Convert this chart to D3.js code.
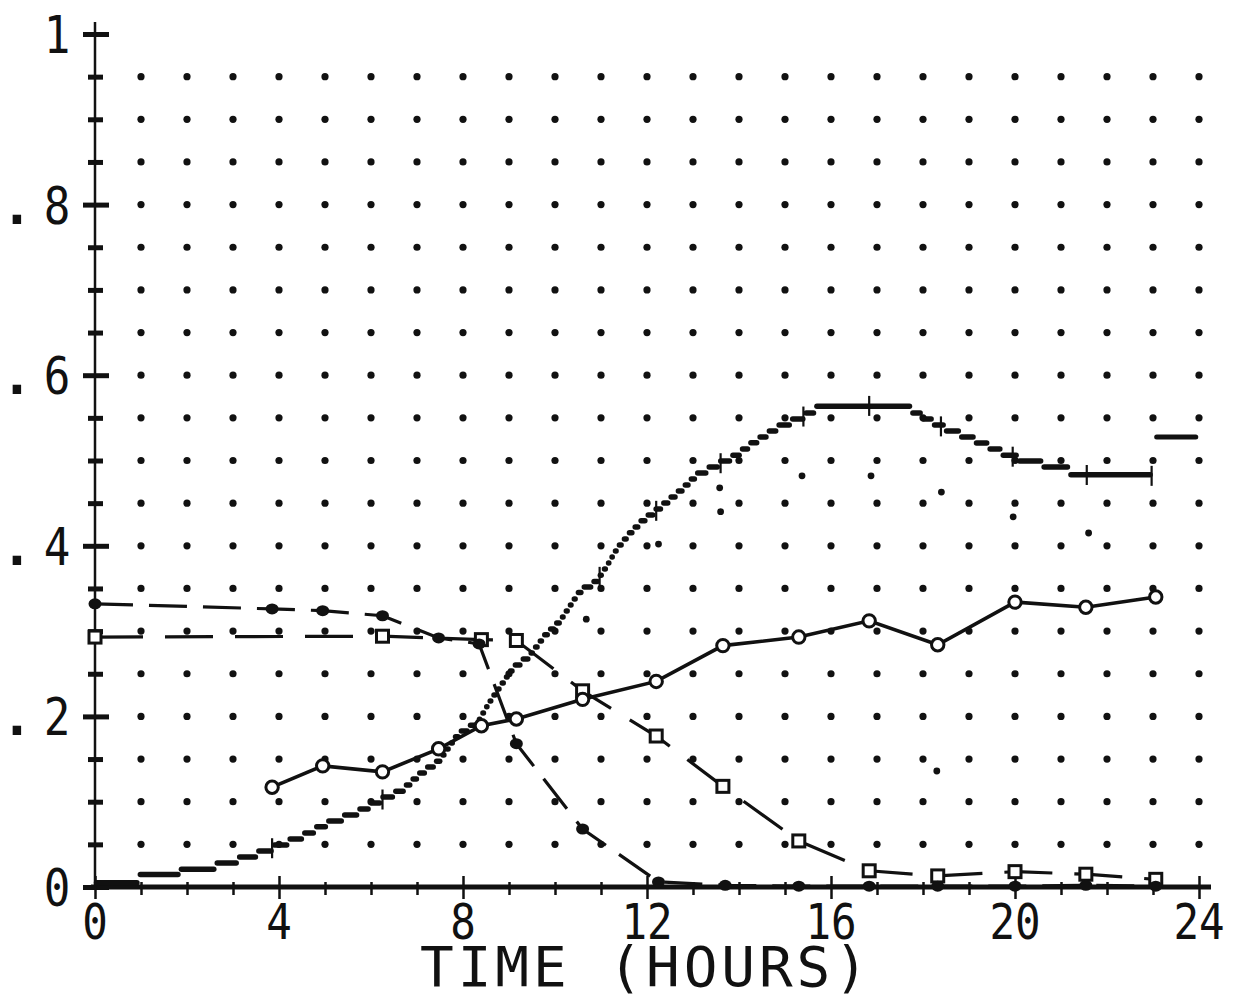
<!DOCTYPE html>
<html>
<head>
<meta charset="utf-8">
<script src="https://cdn.jsdelivr.net/npm/d3@7"></script>
<style>
  html, body { margin: 0; padding: 0; background: #fff; }
  svg { display: block; }
</style>
</head>
<body>
<svg id="chart" width="1237" height="999"></svg>
<script>
// ---- data -------------------------------------------------------------
// sampling times (hours)
const sampleHours = [3.85, 4.95, 6.25, 7.47, 8.4, 9.16, 10.6, 12.2, 13.65, 15.3, 16.83, 18.32, 20.0, 21.54, 23.06];

// open circles, solid line
const circleValues = [0.117, 0.142, 0.135, 0.162, 0.189, 0.197, 0.220, 0.241, 0.283, 0.293, 0.312, 0.284, 0.334, 0.328, 0.340];

// filled circles, dashed line
const filledHours  = [0, 3.85, 4.95, 6.25, 7.47, 8.35, 9.16, 10.6, 12.25, 13.7, 15.3, 16.83, 18.32, 20.0, 21.54, 23.06];
const filledValues = [0.332, 0.326, 0.324, 0.318, 0.292, 0.285, 0.168, 0.068, 0.006, 0.002, 0.001, 0.001, 0.001, 0.001, 0.002, 0.001];

// open squares, long-dashed line
const squareHours  = [0, 6.25, 8.4, 9.16, 10.6, 12.2, 13.65, 15.3, 16.83, 18.32, 20.0, 21.54, 23.06];
const squareValues = [0.293, 0.294, 0.290, 0.289, 0.230, 0.177, 0.118, 0.054, 0.019, 0.013, 0.018, 0.015, 0.009];

// plotted curve (stepped pen trace)
const curveHours  = [0, 0.72, 1.0, 1.9, 2.5, 3.0, 3.47, 4.02, 4.5, 5.0, 5.69, 6.19, 6.69, 7.06, 7.49, 7.86, 8.32, 8.58, 9.08, 9.45,
                     9.77, 10.1, 10.53, 10.9, 11.15, 11.34, 11.62, 11.9, 12.2, 12.7, 13.07, 13.57, 13.94, 14.27, 14.83, 15.42, 15.81, 17.59, 17.98, 18.39,
                     19.22, 19.91, 20.59, 21.1, 21.56, 22.97];
const curveValues = [0.004, 0.004, 0.012, 0.018, 0.023, 0.030, 0.0375, 0.049, 0.059, 0.073, 0.087, 0.101, 0.114, 0.132, 0.148, 0.177, 0.193, 0.217, 0.256, 0.271,
                     0.294, 0.311, 0.346, 0.358, 0.378, 0.396, 0.414, 0.429, 0.441, 0.463, 0.482, 0.496, 0.506, 0.519, 0.538, 0.552, 0.564, 0.564, 0.552, 0.540,
                     0.522, 0.505, 0.496, 0.490, 0.483, 0.482];
const curveTickHours = [3.85, 6.25, 10.97, 12.2, 13.6, 15.4, 16.83, 18.39, 19.95, 21.56, 22.97];
const curveTailHours = [23.08, 23.93];
const curveTailValues = [0.5275, 0.5275];

// loose pen dots
const speckHours  = [10.68, 12.25, 13.6, 13.58, 15.37, 16.87, 18.4, 19.96, 21.6, 18.3];
const speckValues = [0.314, 0.402, 0.440, 0.468, 0.482, 0.482, 0.463, 0.434, 0.415, 0.136];

// axes
const gridHours  = d3.range(1, 25);
const gridValues = d3.range(1, 20).map(i => i * 0.05);
const xTickValues = [0, 4, 8, 12, 16, 20, 24];
const xTickLabels = ["0", "4", "8", "12", "16", "20", "24"];
const yTickValues = [0, 0.2, 0.4, 0.6, 0.8, 1];
const yTickLabels = ["0", ".2", ".4", ".6", ".8", "1"];
const xTitle = "TIME (HOURS)";

// ---- drawing ----------------------------------------------------------
const ink = "#111";
const mono = "'DejaVu Sans Mono', 'Liberation Mono', monospace";
const svg = d3.select("#chart");
const x = d3.scaleLinear().domain([0, 24]).range([95, 1199]);
const y = d3.scaleLinear().domain([0, 1]).range([887, 34]);

// dotted grid
svg.append("g")
  .selectAll("circle")
  .data(d3.cross(gridHours, gridValues))
  .join("circle")
  .attr("cx", d => x(d[0]))
  .attr("cy", d => y(d[1]))
  .attr("r", 3.6)
  .attr("fill", ink);

// y axis with ticks crossing the line
const isMajorY = v => Math.abs(v * 5 - Math.round(v * 5)) < 1e-6;
const gy = svg.append("g")
  .attr("transform", `translate(${x(0)},0)`)
  .attr("color", ink)
  .call(d3.axisLeft(y).tickValues(d3.range(0, 21).map(i => i * 0.05)).tickFormat("").tickSizeOuter(0));
gy.select(".domain").attr("stroke-width", 2.5).attr("d", `M0,${y(0)}V${y(1) - 12}`);
gy.selectAll(".tick line")
  .attr("x1", d => isMajorY(d) ? -12 : -7)
  .attr("x2", d => isMajorY(d) ? 14 : 8)
  .attr("stroke-width", 5);

// x axis
const gx = svg.append("g")
  .attr("transform", `translate(0,${y(0)})`)
  .attr("color", ink)
  .call(d3.axisBottom(x).tickValues(d3.range(0, 25)).tickFormat("").tickSizeOuter(0));
gx.select(".domain").attr("stroke-width", 5).attr("d", `M${x(0) - 4},0H${x(24) + 12}`);
gx.selectAll(".tick line")
  .attr("y1", d => d % 4 === 0 ? -11 : -5)
  .attr("y2", d => d % 4 === 0 ? 12 : 8)
  .attr("stroke-width", 2.5);

// tick labels (narrow, tall digits)
const narrow = 0.85;
svg.append("g")
  .attr("transform", `scale(${narrow},1)`)
  .selectAll("text")
  .data(xTickValues)
  .join("text")
  .attr("x", d => x(d) / narrow)
  .attr("y", 939)
  .attr("text-anchor", "middle")
  .attr("font-family", mono)
  .attr("font-size", 50)
  .attr("fill", ink)
  .text((d, i) => xTickLabels[i]);

const yl = svg.append("g").selectAll("g")
  .data(yTickValues)
  .join("g")
  .attr("transform", d => `translate(0,${y(d) + 19})`);
yl.append("text")
  .attr("transform", `scale(${narrow},1)`)
  .attr("x", 57 / narrow)
  .attr("text-anchor", "middle")
  .attr("font-family", mono)
  .attr("font-size", 52)
  .attr("fill", ink)
  .text((d, i) => yTickLabels[i].replace(".", ""));
yl.filter((d, i) => yTickLabels[i].startsWith("."))
  .append("text")
  .attr("x", 17)
  .attr("text-anchor", "middle")
  .attr("font-family", mono)
  .attr("font-size", 52)
  .attr("font-weight", "bold")
  .attr("fill", ink)
  .text(".");

// axis title
svg.append("text")
  .attr("x", 420)
  .attr("y", 986)
  .attr("font-family", mono)
  .attr("font-size", 56)
  .attr("textLength", 448)
  .attr("lengthAdjust", "spacing")
  .attr("fill", ink)
  .text(xTitle);

// stepped curve: split the trace into horizontal pen runs
const curvePts = curveHours.map((h, i) => [x(h), y(curveValues[i])]);
const samples = [];
for (let i = 0; i < curvePts.length - 1; i++) {
  const [x0, y0] = curvePts[i], [x1, y1] = curvePts[i + 1];
  const n = Math.max(1, Math.ceil(Math.hypot(x1 - x0, y1 - y0) / 0.5));
  for (let j = 0; j < n; j++) {
    const t = j / n;
    samples.push([x0 + (x1 - x0) * t, y0 + (y1 - y0) * t]);
  }
}
samples.push(curvePts[curvePts.length - 1]);
const rowStep = 6;
const runs = [];
let cur = null;
samples.forEach(([px, py]) => {
  const r = Math.round((y(0) - py) / rowStep);
  if (!cur || cur.r !== r) {
    cur = { r, x0: px, x1: px, ys: py, n: 1 };
    runs.push(cur);
  } else {
    cur.x1 = px; cur.ys += py; cur.n += 1;
  }
});
svg.append("g")
  .attr("stroke", ink)
  .attr("stroke-linecap", "round")
  .attr("stroke-width", 5.5)
  .selectAll("line")
  .data(runs)
  .join("line")
  .attr("x1", d => { const g = Math.min(1.5, (d.x1 - d.x0) / 2); return d.x0 + g; })
  .attr("x2", d => { const g = Math.min(1.5, (d.x1 - d.x0) / 2); return d.x1 - g; })
  .attr("y1", d => d.ys / d.n)
  .attr("y2", d => d.ys / d.n);

const curveAt = h => {
  const i = Math.max(0, Math.min(curveHours.length - 2, d3.bisectRight(curveHours, h) - 1));
  const t = (h - curveHours[i]) / (curveHours[i + 1] - curveHours[i]);
  return curveValues[i] + (curveValues[i + 1] - curveValues[i]) * t;
};
svg.append("g")
  .attr("stroke", ink)
  .attr("stroke-width", 2.2)
  .selectAll("line")
  .data(curveTickHours)
  .join("line")
  .attr("x1", d => x(d)).attr("x2", d => x(d))
  .attr("y1", d => y(curveAt(d)) - 10)
  .attr("y2", d => y(curveAt(d)) + 10);

svg.append("path")
  .datum(curveTailHours.map((h, i) => [h, curveTailValues[i]]))
  .attr("fill", "none")
  .attr("stroke", ink)
  .attr("stroke-width", 5)
  .attr("stroke-linecap", "round")
  .attr("d", d3.line().x(d => x(d[0])).y(d => y(d[1])));

// loose dots
svg.append("g")
  .selectAll("circle")
  .data(speckHours.map((h, i) => [h, speckValues[i]]))
  .join("circle")
  .attr("cx", d => x(d[0]))
  .attr("cy", d => y(d[1]))
  .attr("r", 3.4)
  .attr("fill", ink);

// series lines
const line = d3.line().x(d => x(d[0])).y(d => y(d[1]));
const squares = squareHours.map((h, i) => [h, squareValues[i]]);
const filled = filledHours.map((h, i) => [h, filledValues[i]]);
const circles = sampleHours.map((h, i) => [h, circleValues[i]]);

svg.append("path").datum(squares)
  .attr("fill", "none").attr("stroke", ink).attr("stroke-width", 3.2)
  .attr("stroke-dasharray", "48,22").attr("d", line);
svg.append("path").datum(filled)
  .attr("fill", "none").attr("stroke", ink).attr("stroke-width", 3.2)
  .attr("stroke-dasharray", "38,16").attr("d", line);
svg.append("path").datum(circles)
  .attr("fill", "none").attr("stroke", ink).attr("stroke-width", 3.6)
  .attr("d", line);

// markers
svg.append("g").selectAll("rect").data(squares).join("rect")
  .attr("x", d => x(d[0]) - 6).attr("y", d => y(d[1]) - 6)
  .attr("width", 12).attr("height", 12)
  .attr("fill", "#fff").attr("stroke", ink).attr("stroke-width", 3);
svg.append("g").selectAll("ellipse").data(filled).join("ellipse")
  .attr("cx", d => x(d[0])).attr("cy", d => y(d[1]))
  .attr("rx", 6.5).attr("ry", 5.5)
  .attr("fill", ink);
svg.append("g").selectAll("circle").data(circles).join("circle")
  .attr("cx", d => x(d[0])).attr("cy", d => y(d[1]))
  .attr("r", 6.2)
  .attr("fill", "#fff").attr("stroke", ink).attr("stroke-width", 3);
</script>
</body>
</html>
